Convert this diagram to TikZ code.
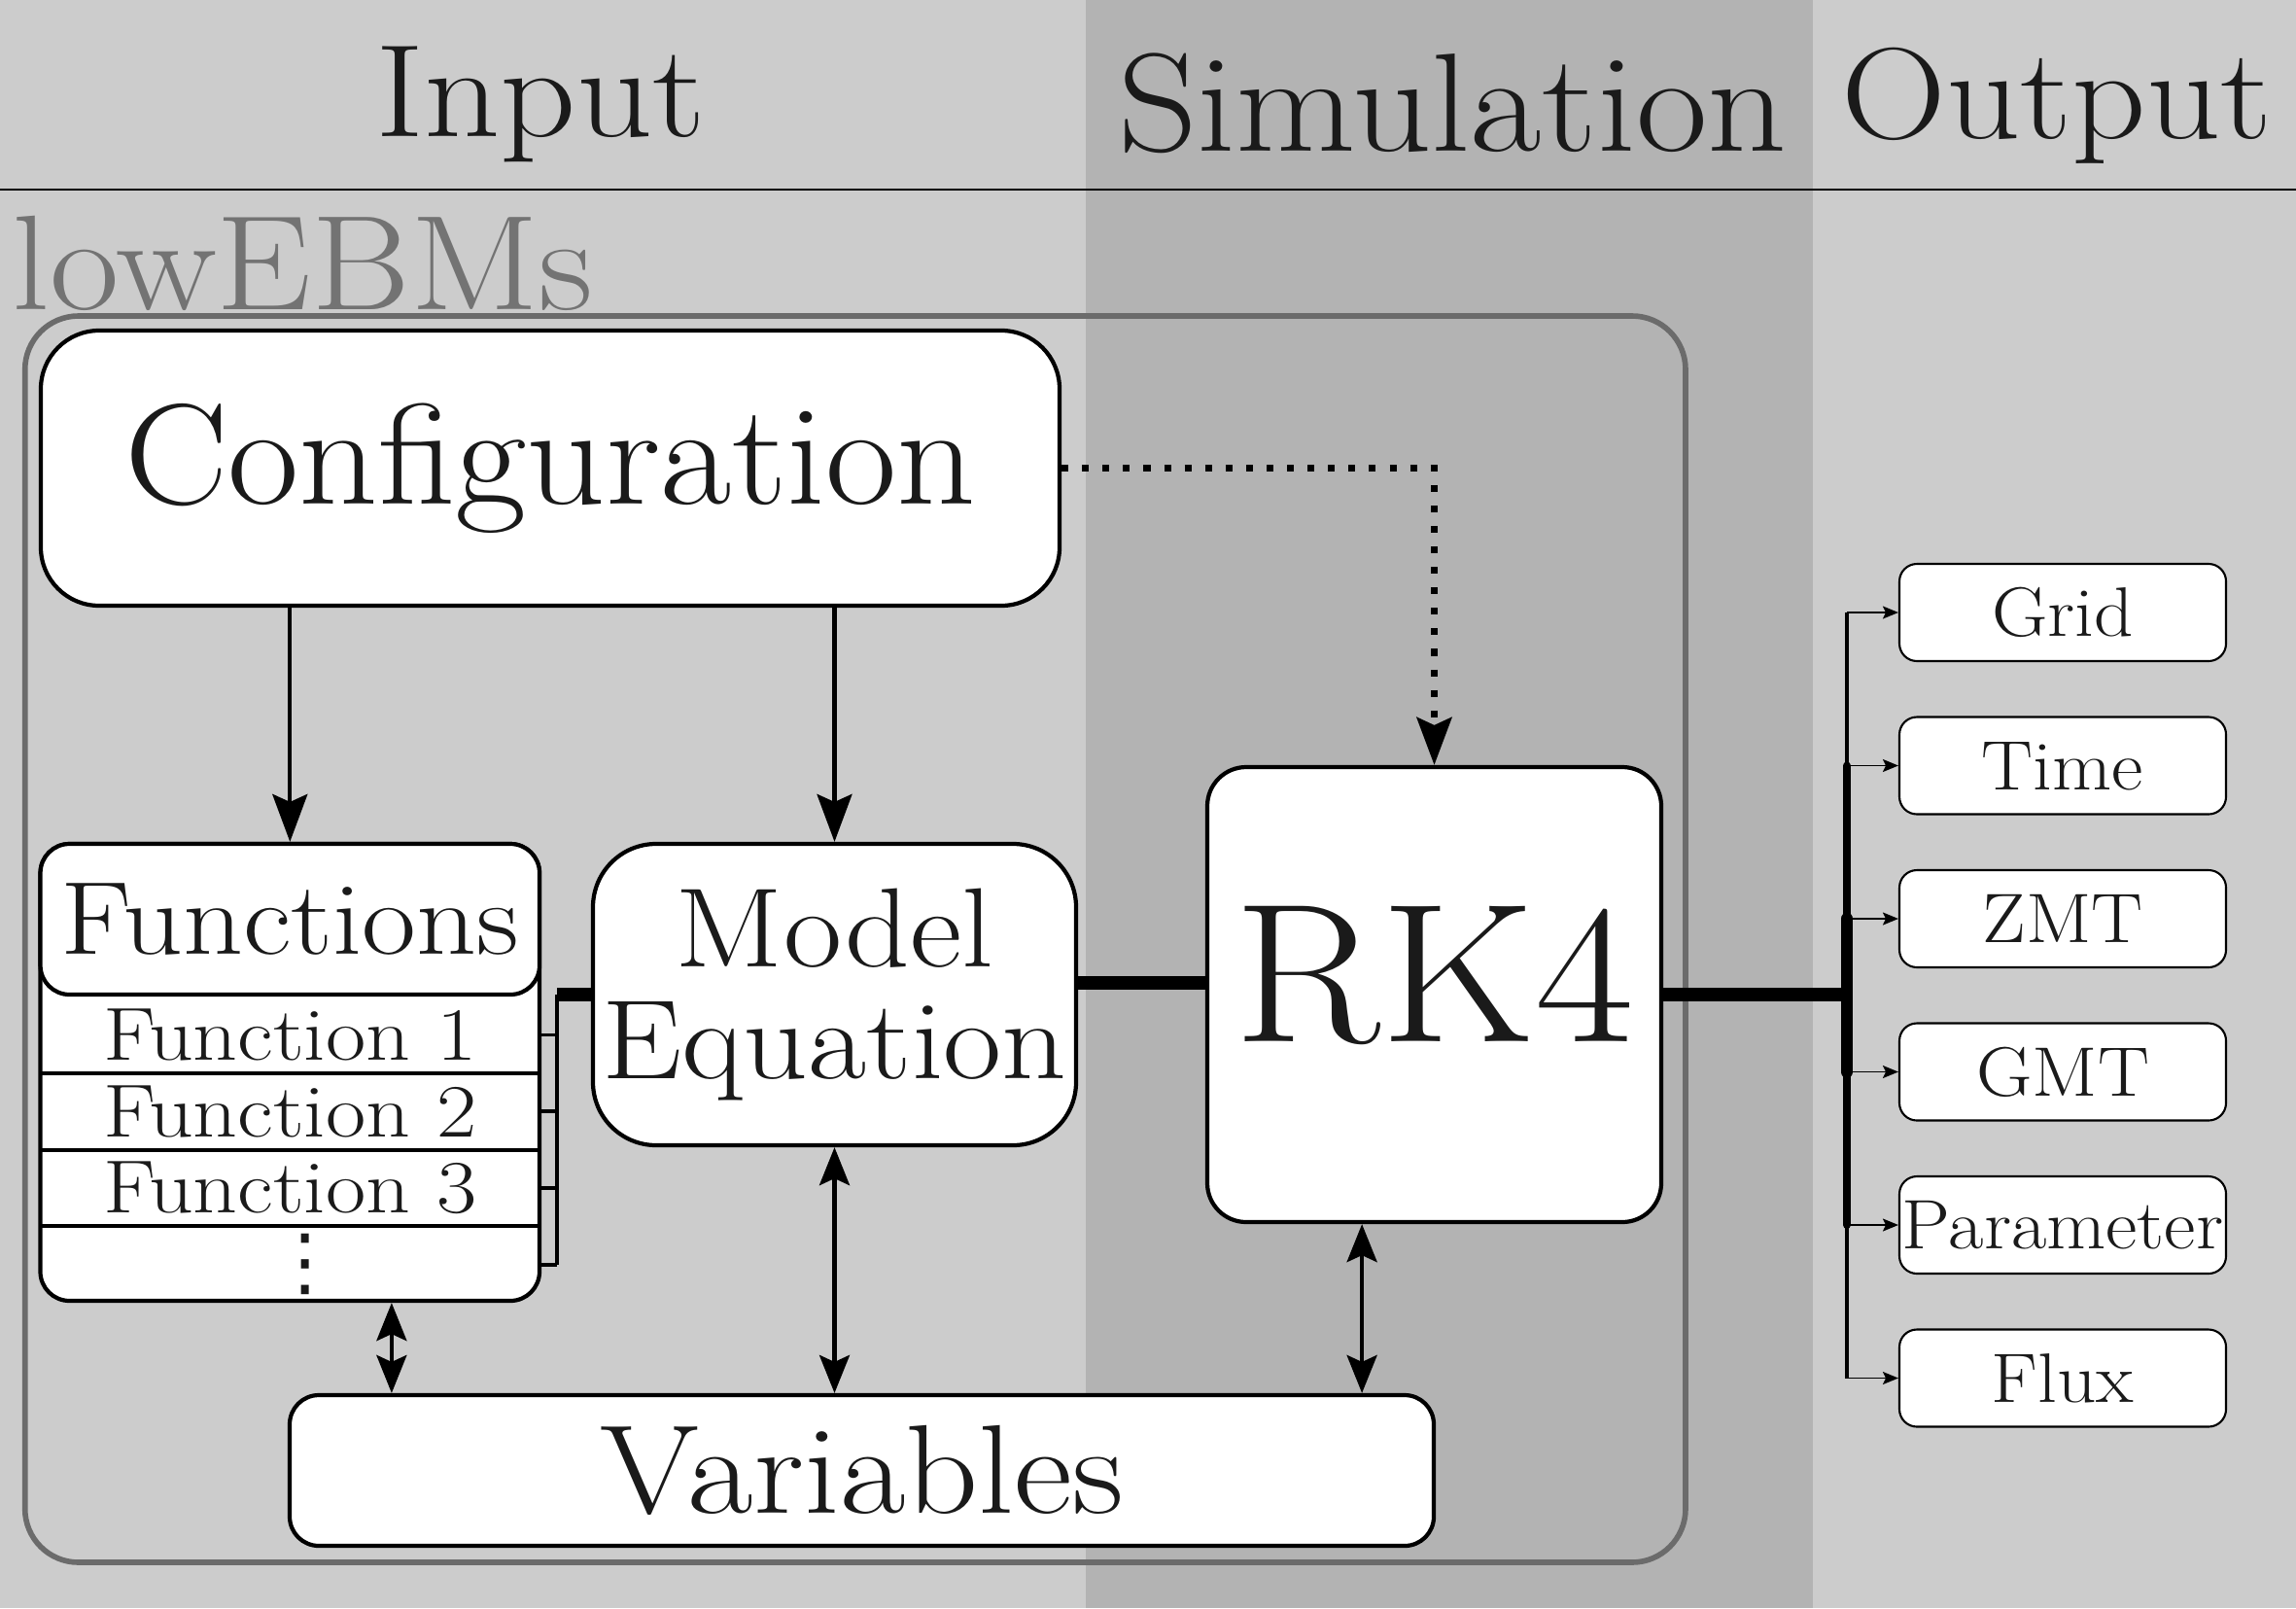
\documentclass[tikz,border=0pt]{standalone}
\usepackage{amsmath}
\usepackage{graphicx}
\usepackage{fontspec}
\newfontfamily\symfont{DejaVu Sans}
\usetikzlibrary{positioning, arrows.meta}
\definecolor{lightbg}{HTML}{CCCCCC}
\definecolor{darkbg}{HTML}{B3B3B3}
\definecolor{framegray}{HTML}{6B6B6B}
\definecolor{labelgray}{HTML}{737373}
\definecolor{ink}{HTML}{1A1A1A}
\newcommand{\stretched}[2][1.12]{\scalebox{#1}[1]{#2}}
\begin{document}
\begin{tikzpicture}[
		block/.style={draw=black, fill=white, line width=1.2pt, rounded corners=#1, align=center, text=ink, inner sep=0pt},
		block/.default=0.3cm,
		outbox/.style={draw=black, fill=white, line width=0.6pt, rounded corners=0.18cm, minimum width=3.36cm, minimum height=1cm, inner sep=0pt, text height=0.49cm, text depth=0pt, text=ink, font=\fontsize{20.5}{22}\selectfont},
		row/.style={minimum width=5.135cm, minimum height=0.7875cm, inner sep=0pt, outer sep=0pt, text=ink, font=\fontsize{22}{24}\selectfont},
		header/.style={anchor=base, inner sep=0pt, text=ink},
		arr/.style={line width=1.2pt, -{Stealth[length=4.9mm, width=3.6mm, inset=0.8mm]}},
		dblarr/.style={line width=1.2pt, {Stealth[length=3.9mm, width=3.1mm, inset=0.7mm]}-{Stealth[length=3.9mm, width=3.1mm, inset=0.7mm]}},
		outarr/.style={line width=0.45pt, -{Stealth[length=1.6mm, width=1.3mm, inset=0.3mm]}},
		heavy/.style={line width=4pt}
	]
		\useasboundingbox (0, 0) rectangle (23.62, -16.54);
		\fill[lightbg] (0, 0) rectangle (23.62, -16.54);
		\fill[darkbg] (11.17, 0) rectangle (18.65, -16.54);
		\draw[line width=0.8pt] (0, -1.95) -- (23.62, -1.95);

		\node[header, font=\fontsize{38.6}{40}\selectfont] (input) at (5.56, -1.40) {\stretched[1.13]{Input}};
		\node[header, font=\fontsize{41}{43}\selectfont] (simulation) at (14.94, -1.55) {\stretched[1.11]{Simulation}};
		\node[header, font=\fontsize{38}{40}\selectfont] (output) at (21.16, -1.42) {\stretched[1.12]{Output}};
		\node[anchor=base west, inner sep=0pt, text=labelgray, font=\fontsize{39.5}{41}\selectfont] (lowebms) at (0.12, -3.18) {\stretched{lowEBMs}};

		\draw[framegray, line width=1.6pt, rounded corners=0.55cm] (0.257, -3.25) rectangle (17.34, -16.07);
		\draw[fill=white, line width=1.2pt, rounded corners=0.3cm] (0.415, -8.68) rectangle (5.55, -13.38);

		\node[block=0.6cm, minimum width=10.48cm, minimum height=2.83cm, font=\fontsize{42}{44}\selectfont] (config) at (5.66, -4.815) {\stretched[1.08]{Configuration}};
		\node[block=0.3cm, minimum width=5.135cm, minimum height=1.55cm, font=\fontsize{30.4}{32}\selectfont] (funcs) at (2.983, -9.455) {\stretched[1.135]{Functions}};
		\node[row, below=0pt of funcs.south] (fun1) {\stretched[1.16]{Function 1}};
		\node[row, below=0pt of fun1] (fun2) {\stretched[1.16]{Function 2}};
		\node[row, below=0pt of fun2] (fun3) {\stretched[1.16]{Function 3}};
		\node[row, below=0pt of fun3, font=\symfont\fontsize{22}{24}\selectfont] (fundots) {\hspace*{0.32cm}⋮};
		\foreach \r in {fun1, fun2, fun3}
			\draw[line width=1.2pt] (\r.south west) -- (\r.south east);
		\node[block=0.65cm, minimum width=4.97cm, minimum height=3.1cm, font=\fontsize{33}{32.5}\selectfont] (model) at (8.585, -10.23) {\stretched[1.127]{Model}\\\stretched[1.127]{Equation}};
		\node[block=0.4cm, minimum width=4.67cm, minimum height=4.68cm, text depth=0.43cm, font=\fontsize{58}{60}\selectfont] (rk4) at (14.755, -10.23) {\stretched[1.086]{RK4}};
		\node[block=0.3cm, minimum width=11.77cm, minimum height=1.55cm, font=\fontsize{37}{40}\selectfont] (vars) at (8.865, -15.125) {\stretched[1.13]{Variables}};
		\foreach \name/\txt [count=\i] in {grid/Grid, time/Time, zmt/ZMT, gmt/GMT, par/Parameter, flux/Flux}
			\node[outbox] (\name) at (21.22, {-6.30 - 1.575*(\i - 1)}) {\stretched[1.1]{\txt}};

		\coordinate (fb) at (5.73, -10.23);
		\foreach \r in {fun1, fun2, fun3, fundots}
			\draw[line width=1.1pt] (\r.east) -- (\r.east -| fb);
		\draw[line width=1.1pt] (fb) -- (fb |- fundots.east);
		\draw[heavy] (fb) -- (model.west);
		\draw[heavy] ([yshift=0.12cm]model.east) -- ([yshift=0.12cm]model.east -| rk4.west);

		\coordinate (jn) at (19.00, -10.23);
		\draw[heavy] (rk4.east) -- (jn);
		\draw[line width=1.1pt] (jn |- grid.west) -- (jn |- flux.west);
		\draw[line width=2.3pt, line cap=round] (jn |- time.west) -- (jn |- par.west);
		\draw[line width=3.6pt, line cap=round] (jn |- zmt.west) -- (jn |- gmt.west);
		\foreach \o in {grid, time, zmt, gmt, par, flux}
			\draw[outarr] (jn |- \o.west) -- (\o.west);

		\draw[arr] (config.south -| funcs.north) -- (funcs.north);
		\draw[arr] (config.south -| model.north) -- (model.north);
		\draw[arr, line width=1.8pt, dash pattern=on 2pt off 4pt] (config.east) -| (rk4.north);
		\draw[dblarr] ([xshift=1.07cm]vars.north west) -- ([xshift=1.07cm]vars.north west |- fundots.south);
		\draw[dblarr] (model.south) -- (model.south |- vars.north);
		\draw[dblarr] ([xshift=-0.76cm]vars.north east) -- ([xshift=-0.76cm]vars.north east |- rk4.south);
	\end{tikzpicture}
\end{document}
